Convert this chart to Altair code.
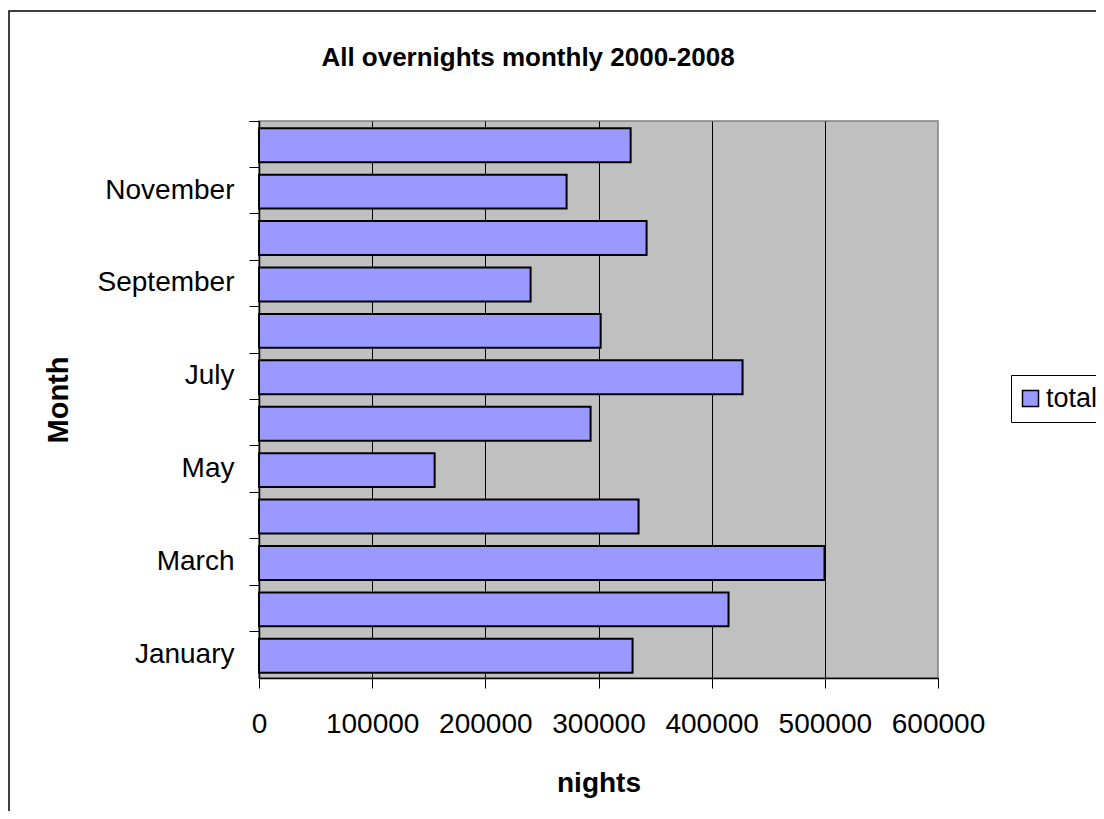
import altair as alt
import pandas as pd

# ---- data ----
months = ["January", "February", "March", "April", "May", "June",
          "July", "August", "September", "October", "November", "December"]
nights = [330100, 414900, 499700, 335400, 155200, 293000,
          427300, 301900, 240000, 342500, 271800, 328400]
series_name = ["total"] * 12
x_tick_values = [0, 100000, 200000, 300000, 400000, 500000, 600000]
shown_month_labels = ["January", "March", "May", "July", "September", "November"]
chart_title = ["All overnights monthly 2000-2008"]

df = pd.DataFrame({"Month": months, "nights": nights, "series": series_name})
FONT = "Liberation Sans"

label_list = ",".join("'" + m + "'" for m in shown_month_labels)

bars = alt.Chart(df).mark_bar(
    height={"band": 0.73}, stroke="black", strokeWidth=2, yOffset=1
).encode(
    x=alt.X(
        "nights:Q",
        scale=alt.Scale(domain=[0, 600000], nice=False, zero=True),
        axis=alt.Axis(
            values=x_tick_values, format="d", title="nights",
            grid=True, gridColor="black", gridWidth=1,
            gridOpacity={"condition": {"test": "datum.value >= 600000", "value": 0}, "value": 1},
            tickSize=10, tickColor="black", domainColor="black", domainWidth=1.5,
            labelFontSize=28, labelPadding=44, labelBaseline="alphabetic",
            labelFlush=False, labelColor="black", labelFont=FONT,
            titleFontSize=28, titleFontWeight="bold", titleFont=FONT, titleColor="black",
            titleX=339.5, titleY=113, titleBaseline="alphabetic", titleAlign="center",
        ),
    ),
    y=alt.Y(
        "Month:N", sort=months,
        scale=alt.Scale(reverse=True, paddingInner=0, paddingOuter=0),
        axis=alt.Axis(
            title="Month", bandPosition=0, tickExtra=True, grid=False,
            tickSize=10, tickColor="black", domainColor="black", domainWidth=1.5,
            labelExpr="indexof([" + label_list + "], datum.value) >= 0 ? datum.label : ''",
            labelOverlap=False,
            labelFontSize=28, labelPadding=15, labelColor="black", labelFont=FONT,
            titleFontSize=29, titleFontWeight="bold", titleFont=FONT, titleColor="black",
            titleAngle=270, titleX=-192, titleY=278.5, titleAlign="center",
            titleBaseline="alphabetic",
        ),
    ),
    color=alt.Color(
        "series:N",
        scale=alt.Scale(range=["#9999FF"]),
        legend=alt.Legend(
            title=None, orient="none", legendX=752, legendY=254,
            strokeColor="black", fillColor="white", padding=10,
            symbolType="square", symbolSize=256, symbolStrokeColor="black",
            symbolStrokeWidth=1.5, symbolOffset=-4, labelFontSize=27, labelOffset=2,
            labelFont=FONT, labelColor="black",
        ),
    ),
)

title_text = alt.Chart(pd.DataFrame({"t": chart_title})).mark_text(
    font=FONT, fontSize=26, fontWeight="bold", color="black",
    align="center", baseline="alphabetic"
).encode(
    text="t:N", x=alt.value(269), y=alt.value(-55)
)

border = alt.Chart(pd.DataFrame({"k": [0]})).mark_rect(
    filled=False, stroke="black", strokeWidth=1.5
).encode(
    x=alt.value(-250), x2=alt.value(1000), y=alt.value(-110), y2=alt.value(800)
)

chart = alt.layer(bars, title_text, border).properties(
    width=679,
    height=557,
    autosize=alt.AutoSizeParams(type="none"),
    padding={"left": 251, "top": 113, "right": 158, "bottom": 133},
    background="white",
).configure_view(
    fill="#C0C0C0", stroke="#808080", strokeWidth=1.5
)

chart.save("out.html", embed_options={"renderer": "svg", "actions": False})
